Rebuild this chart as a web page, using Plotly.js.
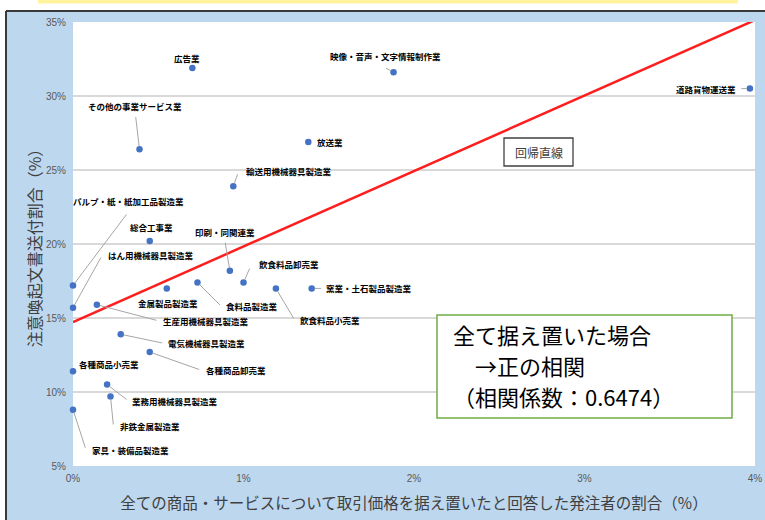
<!DOCTYPE html>
<html>
<head>
<meta charset="utf-8">
<script src="https://cdn.plot.ly/plotly-3.0.1.min.js"></script>
<style>
  html, body { margin: 0; padding: 0; background: #ffffff; }
  #chart { width: 765px; height: 520px; }
</style>
</head>
<body>
<div id="chart"></div>
<script>
// ---- data ----
const industries = [
  "広告業", "映像・音声・文字情報制作業", "道路貨物運送業", "その他の事業サービス業",
  "放送業", "輸送用機械器具製造業", "パルプ・紙・紙加工品製造業", "総合工事業",
  "はん用機械器具製造業", "印刷・同関連業", "飲食料品卸売業", "金属製品製造業",
  "食料品製造業", "飲食料品小売業", "窯業・土石製品製造業", "生産用機械器具製造業",
  "電気機械器具製造業", "各種商品卸売業", "各種商品小売業", "業務用機械器具製造業",
  "非鉄金属製造業", "家具・装備品製造業"
];
const freezeShare = [ // x: 全て据え置いた発注者の割合 (%)
  0.70, 1.88, 3.97, 0.39,
  1.38, 0.94, 0.00, 0.45,
  0.00, 0.92, 1.00, 0.55,
  0.73, 1.19, 1.40, 0.14,
  0.28, 0.45, 0.00, 0.20,
  0.22, 0.00
];
const noticeShare = [ // y: 注意喚起文書送付割合 (%)
  31.9, 31.6, 30.5, 26.4,
  26.9, 23.9, 17.2, 20.2,
  15.7, 18.2, 17.4, 17.0,
  17.4, 17.0, 17.0, 15.9,
  13.9, 12.7, 11.4, 10.5,
  9.7, 8.8
];
const regIntercept = 14.73;
const regSlope = 5.1;
const xTickVals = [0, 1, 2, 3, 4];
const xTickText = ["0%", "1%", "2%", "3%", "4%"];
const yTickVals = [5, 10, 15, 20, 25, 30, 35];
const yTickText = ["5%", "10%", "15%", "20%", "25%", "30%", "35%"];
const xTitle = "全ての商品・サービスについて取引価格を据え置いたと回答した発注者の割合（%）";
const yTitle = "注意喚起文書送付割合（%）";
const boxLines = ["全て据え置いた場合", "　→正の相関", "（相関係数：0.6474）"];
const regLabel = "回帰直線";

// ---- label placement (pixel offsets from each point) ----
// [anchor, xshift, yshift(up+), leaderDx, leaderDy(down+)] ; leader null => none
const labelPlace = [
  ["center", -5, 10, null, null],
  ["center", -8, 16, -9, -5],
  ["right", -13, 0, -10, 0],
  ["center", -5, 43, -4, -34],
  ["left", 8, 0, null, null],
  ["left", 12, 15, 5, -14],
  ["left", -1, 84, 55, -73],
  ["center", 2, 14, null, null],
  ["left", 34, 53, 29, -52],
  ["center", -5, 39, -5, -30],
  ["left", 14, 18, 7, -16],
  ["center", 1, -15, 0, 5],
  ["left", 28, -24, 24, 24],
  ["left", 23, -32, 19, 32],
  ["left", 13, 0, 11, 0],
  ["left", 65, -16, 61, 16],
  ["left", 46, -9, 43, 9],
  ["left", 55, -18, 51, 18],
  ["left", 5, 7, null, null],
  ["left", 24, -16, 21, 16],
  ["left", 8, -30, 3, 30],
  ["left", 18, -40, 13, 40]
];

// ---- geometry helpers (plot area in pixels) ----
const W = 765, H = 520;
const M = { l: 73, r: 10, t: 22, b: 54 };
const PW = W - M.l - M.r, PH = H - M.t - M.b;
const px2x = p => (p - M.l) / PW;
const py2y = p => (H - M.b - p) / PH;

const JP = "Noto Sans CJK JP, Noto Sans, sans-serif";
const TICKF = "Liberation Sans Narrow, Liberation Sans, Arial, sans-serif";

const points = {
  type: "scatter", mode: "markers",
  x: freezeShare, y: noticeShare, text: industries,
  marker: { color: "#4472C4", size: 6.5 },
  hoverinfo: "text", showlegend: false, cliponaxis: false
};
const regX = [0, 4];
const regLine = {
  type: "scatter", mode: "lines",
  x: regX, y: regX.map(v => regIntercept + regSlope * v),
  line: { color: "#FF1E1E", width: 2.5 },
  hoverinfo: "skip", showlegend: false
};

const annotations = [];
industries.forEach((name, i) => {
  const [anc, xs, ys, ldx, ldy] = labelPlace[i];
  if (ldx !== null) {
    annotations.push({
      x: freezeShare[i], y: noticeShare[i], xref: "x", yref: "y",
      text: " ", showarrow: true, arrowhead: 0, arrowwidth: 1,
      arrowcolor: "#A6A6A6", ax: ldx, ay: ldy, standoff: 3, startstandoff: 0,
      font: { size: 1 }
    });
  }
  annotations.push({
    x: freezeShare[i], y: noticeShare[i], xref: "x", yref: "y",
    text: "<b>" + name + "</b>", showarrow: false,
    xanchor: anc, yanchor: "middle", xshift: xs, yshift: ys,
    font: { family: JP, size: 8.5, color: "#000000" }, borderpad: 0
  });
});
const boxLineY = [333.5, 364.5, 395.5];
boxLines.forEach((t, i) => {
  annotations.push({
    xref: "paper", yref: "paper", x: px2x(452), y: py2y(boxLineY[i]),
    xanchor: "left", yanchor: "middle", align: "left",
    text: t, showarrow: false, borderpad: 0,
    font: { family: JP, size: 22, color: "#000000" }
  });
});
annotations.push({
  xref: "paper", yref: "paper", x: px2x(538.5), y: py2y(152),
  xanchor: "center", yanchor: "middle",
  text: regLabel, showarrow: false,
  font: { family: JP, size: 12, color: "#404040" }
});

const shapes = [
  // blue outer panel
  { type: "rect", xref: "paper", yref: "paper", layer: "below",
    x0: px2x(6), x1: px2x(766), y0: py2y(11), y1: py2y(521),
    fillcolor: "#BDD7EE", line: { width: 0 } },
  // white plot area
  { type: "rect", xref: "paper", yref: "paper", layer: "below",
    x0: 0, x1: 1, y0: 0, y1: 1, fillcolor: "#FFFFFF", line: { width: 0 } },
  // dark frame lines
  { type: "line", xref: "paper", yref: "paper", layer: "below",
    x0: px2x(6), x1: px2x(766), y0: py2y(11), y1: py2y(11),
    line: { color: "#3A3A3A", width: 2 } },
  { type: "line", xref: "paper", yref: "paper", layer: "below",
    x0: px2x(6), x1: px2x(6), y0: py2y(11), y1: py2y(521),
    line: { color: "#3A3A3A", width: 2 } },
  // yellow strip at top
  { type: "rect", xref: "paper", yref: "paper", layer: "below",
    x0: px2x(38), x1: px2x(738), y0: py2y(0), y1: py2y(3.5),
    fillcolor: "#FFF49C", line: { width: 0 } },
  // correlation text box
  { type: "rect", xref: "paper", yref: "paper", layer: "above",
    x0: px2x(437), x1: px2x(732), y0: py2y(315), y1: py2y(418),
    fillcolor: "#FFFFFF", line: { color: "#70AD47", width: 1.5 } },
  // regression label box
  { type: "rect", xref: "paper", yref: "paper", layer: "above",
    x0: px2x(504), x1: px2x(573), y0: py2y(138), y1: py2y(166),
    fillcolor: "#FFFFFF", line: { color: "#404040", width: 1.3 } }
];

const layout = {
  width: W, height: H,
  margin: M,
  paper_bgcolor: "#FFFFFF",
  plot_bgcolor: "#FFFFFF",
  showlegend: false,
  xaxis: {
    range: [0, 4], tickvals: xTickVals, ticktext: xTickText,
    showgrid: false, zeroline: false, showline: false, ticks: "",
    ticklabelstandoff: 5,
    tickfont: { family: TICKF, size: 10, color: "#595959" },
    fixedrange: true,
    title: { text: xTitle, standoff: 15, font: { family: JP, size: 15.5, color: "#404040" } }
  },
  yaxis: {
    range: [5, 35], tickvals: yTickVals, ticktext: yTickText,
    showgrid: true, gridcolor: "#D9D9D9", gridwidth: 1.5,
    zeroline: false, showline: false, ticks: "", ticklabelstandoff: 6,
    tickfont: { family: TICKF, size: 10, color: "#595959" },
    fixedrange: true,
    title: { text: yTitle, standoff: 0, font: { family: JP, size: 16, color: "#404040" } }
  },
  shapes: shapes,
  annotations: annotations
};

Plotly.newPlot("chart", [regLine, points], layout, { displayModeBar: false, staticPlot: true });
</script>
</body>
</html>
